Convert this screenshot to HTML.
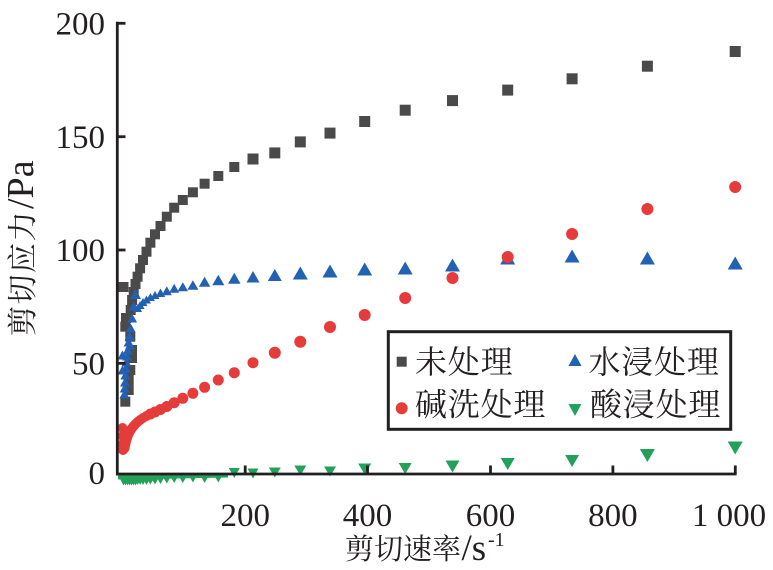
<!DOCTYPE html>
<html><head><meta charset="utf-8"><style>
html,body{margin:0;padding:0;background:#fff;}
svg{display:block;}
text{font-family:"Liberation Serif","Noto Serif CJK SC",serif;fill:#231f20;}
</style></head><body>
<svg width="773" height="570" viewBox="0 0 773 570" xmlns="http://www.w3.org/2000/svg">
<rect width="773" height="570" fill="#fff"/>
<g fill="#4a4a4a">
<rect x="729.7" y="46" width="11" height="11"/>
<rect x="641.9" y="60.7" width="11" height="11"/>
<rect x="566.6" y="73.3" width="11" height="11"/>
<rect x="502.2" y="84.6" width="11" height="11"/>
<rect x="447" y="95.1" width="11" height="11"/>
<rect x="399.7" y="104.7" width="11" height="11"/>
<rect x="359.2" y="116" width="11" height="11"/>
<rect x="324.5" y="127.6" width="11" height="11"/>
<rect x="294.8" y="136.4" width="11" height="11"/>
<rect x="269.3" y="147.4" width="11" height="11"/>
<rect x="247.5" y="153.5" width="11" height="11"/>
<rect x="229.3" y="162" width="10" height="10"/>
<rect x="213.3" y="171" width="10" height="10"/>
<rect x="199.6" y="178.7" width="10" height="10"/>
<rect x="187.9" y="187.3" width="10" height="10"/>
<rect x="177.8" y="195" width="10" height="10"/>
<rect x="169.2" y="202.7" width="10" height="10"/>
<rect x="161.8" y="211.7" width="10" height="10"/>
<rect x="155.5" y="221" width="10" height="10"/>
<rect x="150" y="229.3" width="10" height="10"/>
<rect x="145.4" y="237.7" width="10" height="10"/>
<rect x="141.5" y="246.7" width="10" height="10"/>
<rect x="138" y="255" width="10" height="10"/>
<rect x="135.1" y="263.3" width="10" height="10"/>
<rect x="132.6" y="271.7" width="10" height="10"/>
<rect x="130.5" y="279" width="10" height="10"/>
<rect x="128.7" y="287" width="10" height="10"/>
<rect x="127.1" y="295" width="10" height="10"/>
<rect x="125.7" y="305" width="10" height="10"/>
<rect x="118.5" y="282" width="10" height="10"/>
<rect x="121" y="313" width="10" height="10"/>
<rect x="120.3" y="321.7" width="10" height="10"/>
<rect x="125.3" y="331.7" width="10" height="10"/>
<rect x="127" y="345" width="10" height="10"/>
<rect x="127" y="353" width="10" height="10"/>
<rect x="125.3" y="365" width="10" height="10"/>
<rect x="123.7" y="375" width="10" height="10"/>
<rect x="123.7" y="385" width="10" height="10"/>
<rect x="120.3" y="396.7" width="10" height="10"/>
</g>
<g fill="#2361b3">
<path d="M735.2,256.5l7.5,13h-15z"/>
<path d="M647.4,251.5l7.5,13h-15z"/>
<path d="M572.1,249.5l7.5,13h-15z"/>
<path d="M507.7,251.5l7.5,13h-15z"/>
<path d="M452.5,258.5l7.5,13h-15z"/>
<path d="M405.2,261.5l7.5,13h-15z"/>
<path d="M364.7,262.5l7.5,13h-15z"/>
<path d="M330,264.5l7.5,13h-15z"/>
<path d="M300.3,266.5l7.5,13h-15z"/>
<path d="M274.8,269l7,12h-14z"/>
<path d="M253,270.95l6.5,11.5h-13z"/>
<path d="M234.3,272.8l6.25,11h-12.5z"/>
<path d="M218.3,274.75l6,10.5h-12z"/>
<path d="M204.6,276.7l5.75,10h-11.5z"/>
<path d="M192.9,280.25l5.5,9.5h-11z"/>
<path d="M182.8,282.2l5.25,9h-10.5z"/>
<path d="M174.2,283.8l5,9h-10z"/>
<path d="M166.8,286.2l5,9h-10z"/>
<path d="M160.5,288.45l4.75,8.5h-9.5z"/>
<path d="M155,291l4.5,8h-9z"/>
<path d="M150.4,293l4.5,8h-9z"/>
<path d="M146.5,295.5l4.5,8h-9z"/>
<path d="M143,298l4.5,8h-9z"/>
<path d="M140.1,301l4.5,8h-9z"/>
<path d="M137.6,304l4.5,8h-9z"/>
<path d="M135.5,289l5.5,10h-11z"/>
<path d="M133.7,301.5l5,9h-10z"/>
<path d="M132.1,313.5l5,9h-10z"/>
<path d="M130.7,323.5l5,9h-10z"/>
<path d="M129.6,331.5l5,9h-10z"/>
<path d="M128.6,337.5l5,9h-10z"/>
<path d="M127.7,345.5l5,9h-10z"/>
<path d="M127.1,351.5l5,9h-10z"/>
<path d="M126.4,357.5l5,9h-10z"/>
<path d="M125.9,363.5l5,9h-10z"/>
<path d="M125.4,370.5l5,9h-10z"/>
<path d="M125,377.5l5,9h-10z"/>
<path d="M124.7,383.5l5,9h-10z"/>
<path d="M124.4,389.5l5,9h-10z"/>
<path d="M122.5,350.5l5,9h-10z"/>
<path d="M122.5,365.5l5,9h-10z"/>
<path d="M130,340.5l5,9h-10z"/>
</g>
<g fill="#e53b3b">
<circle cx="735.2" cy="187" r="6"/>
<circle cx="647.4" cy="209" r="6"/>
<circle cx="572.1" cy="234" r="6"/>
<circle cx="507.7" cy="257" r="6"/>
<circle cx="452.5" cy="278" r="6"/>
<circle cx="405.2" cy="298" r="6"/>
<circle cx="364.7" cy="315" r="6"/>
<circle cx="330" cy="327" r="6"/>
<circle cx="300.3" cy="341.7" r="6"/>
<circle cx="274.8" cy="352.7" r="6"/>
<circle cx="253" cy="362.7" r="5.5"/>
<circle cx="234.3" cy="372.7" r="5.5"/>
<circle cx="218.3" cy="380" r="5.5"/>
<circle cx="204.6" cy="387.3" r="5.5"/>
<circle cx="192.9" cy="393.3" r="5.5"/>
<circle cx="182.8" cy="398.3" r="5.5"/>
<circle cx="174.2" cy="402.7" r="5.5"/>
<circle cx="166.8" cy="406.5" r="5.5"/>
<circle cx="160.5" cy="409.5" r="5.5"/>
<circle cx="155" cy="412" r="5.5"/>
<circle cx="150.4" cy="414" r="5.5"/>
<circle cx="146.5" cy="416" r="5"/>
<circle cx="143" cy="418" r="5"/>
<circle cx="140.1" cy="420" r="5"/>
<circle cx="137.6" cy="422" r="5"/>
<circle cx="135.5" cy="424" r="5"/>
<circle cx="133.7" cy="426" r="5"/>
<circle cx="132.1" cy="428" r="5"/>
<circle cx="130.7" cy="430" r="5"/>
<circle cx="129.6" cy="432" r="5"/>
<circle cx="128.6" cy="434" r="5"/>
<circle cx="127.7" cy="436" r="5"/>
<circle cx="127.1" cy="438" r="5"/>
<circle cx="126.4" cy="440" r="5"/>
<circle cx="125.9" cy="442" r="5"/>
<circle cx="125.4" cy="444" r="5"/>
<circle cx="125" cy="446" r="5"/>
<circle cx="124.7" cy="448" r="5"/>
<circle cx="122.5" cy="428" r="5"/>
<circle cx="122.5" cy="436" r="5"/>
<circle cx="122.5" cy="444" r="5"/>
<circle cx="123" cy="450" r="5"/>
</g>
<g fill="#23a05a">
<path d="M727.7,441.5h15l-7.5,13z"/>
<path d="M639.9,449h15l-7.5,13z"/>
<path d="M565.1,455h14l-7,12z"/>
<path d="M500.7,458h14l-7,12z"/>
<path d="M445.5,460.5h14l-7,12z"/>
<path d="M398.7,463h13l-6.5,11z"/>
<path d="M358.2,463.5h13l-6.5,11z"/>
<path d="M324,466.5h12l-6,10z"/>
<path d="M294.3,465.5h12l-6,10z"/>
<path d="M268.8,467.5h12l-6,10z"/>
<path d="M247.5,468.5h11l-5.5,10z"/>
<path d="M228.8,468h11l-5.5,10z"/>
<path d="M213.3,473.5h10l-5,9z"/>
<path d="M199.6,474h10l-5,9z"/>
<path d="M188.4,474.5h9l-4.5,8z"/>
<path d="M178.3,475h9l-4.5,8z"/>
<path d="M170.2,476h8l-4,7z"/>
<path d="M162.8,476.5h8l-4,7z"/>
<path d="M156.5,477h8l-4,7z"/>
<path d="M151,477.5h8l-4,7z"/>
<path d="M146.4,477.5h8l-4,7z"/>
<path d="M142.5,477.5h8l-4,7.5z"/>
<path d="M139,477.5h8l-4,7.5z"/>
<path d="M136.1,477.5h8l-4,7.5z"/>
<path d="M133.6,477.5h8l-4,7.5z"/>
<path d="M131,477h9l-4.5,8.5z"/>
<path d="M129,477h9l-4.5,8.5z"/>
<path d="M127,477h9l-4.5,8.5z"/>
<path d="M125,477h9l-4.5,8.5z"/>
<path d="M123,477h9l-4.5,8.5z"/>
<path d="M121,477h9l-4.5,8.5z"/>
<path d="M119,477h9l-4.5,8.5z"/>
<polygon points="118,475 228,475 228,477.5 118,479.5"/>
</g>
<g stroke="#231f20" stroke-width="2.8" fill="none">
<path d="M117.3,21.8V475.4"/>
<path d="M116,474H736.6"/>
<path d="M117.3,23.3H125.5"/>
<path d="M117.3,136.7H125.5"/>
<path d="M117.3,250H125.5"/>
<path d="M117.3,363.3H125.5"/>
<path d="M245.2,474V465.5"/>
<path d="M367.5,474V465.5"/>
<path d="M490.5,474V465.5"/>
<path d="M612.9,474V465.5"/>
<path d="M735.3,474V465.5"/>
</g>
<g font-size="33" text-anchor="end">
<text x="105" y="34.5">200</text>
<text x="105" y="148">150</text>
<text x="105" y="261">100</text>
<text x="105" y="374.5">50</text>
<text x="105" y="484">0</text>
</g>
<g font-size="33" text-anchor="middle">
<text x="245.2" y="526">200</text>
<text x="367.5" y="526">400</text>
<text x="490.5" y="526">600</text>
<text x="612.9" y="526">800</text>
<text x="729" y="526">1 000</text>
</g>
<text x="345" y="559" font-size="29">剪切速率</text>
<text x="461.5" y="560" font-size="37">/s</text>
<text x="488" y="546" font-size="20">-1</text>
<g transform="translate(33,336) rotate(-90)">
<text x="0" y="0" font-size="30" letter-spacing="1.5">剪切应力</text>
<text x="127" y="0" font-size="38">/Pa</text>
</g>
<rect x="388.3" y="331.7" width="342.4" height="97.6" fill="#fff" stroke="#231f20" stroke-width="3"/>
<rect x="396.7" y="356.7" width="10" height="10" fill="#4a4a4a"/>
<circle cx="401.7" cy="408.3" r="6" fill="#e53b3b"/>
<path d="M575,354l6.5,12h-13z" fill="#2361b3"/>
<path d="M568.5,404h13l-6.5,12z" fill="#23a05a"/>
<g font-size="32" letter-spacing="0.8">
<text x="415" y="373">未处理</text>
<text x="415" y="415.5">碱洗处理</text>
<text x="588.5" y="373">水浸处理</text>
<text x="590" y="415.5">酸浸处理</text>
</g>
</svg>
</body></html>
